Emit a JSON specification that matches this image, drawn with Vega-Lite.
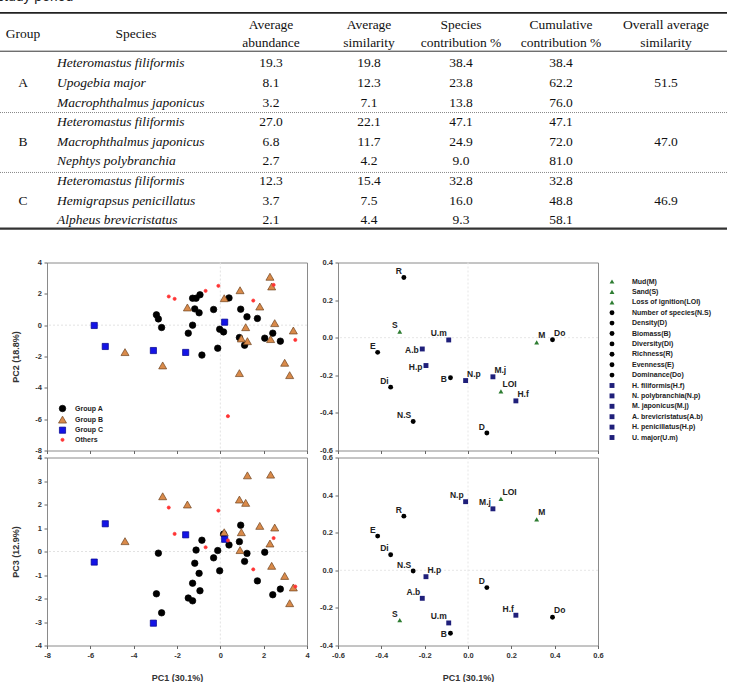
{
  "$schema": "https://vega.github.io/schema/vega-lite/v6.json",
  "padding": {"left": -3, "top": -10.5, "right": 0, "bottom": 0},
  "background": "white",
  "bounds": "flush",
  "columns": 2,
  "spacing": {"row": 7, "column": 31},
  "resolve": {
    "scale": {"color": "independent", "shape": "independent", "size": "independent", "stroke": "independent"},
    "legend": {"color": "independent", "shape": "independent", "size": "independent", "stroke": "independent"}
  },
  "config": {
    "font": "Liberation Sans",
    "view": {"stroke": "#8a8a8a"},
    "axis": {"labelFont": "Liberation Sans", "labelFontSize": 7.5, "labelFontWeight": "bold", "labelColor": "#333", "labelOverlap": false, "labelFlush": false, "labelBound": false, "tickColor": "#666", "tickSize": 3, "tickWidth": 1, "domain": false, "grid": false, "titleFont": "Liberation Sans", "titleFontSize": 9, "titleFontWeight": "bold", "titleColor": "#333"},
    "axisX": {"labelPadding": 3, "titlePadding": 14},
    "axisY": {"labelPadding": 2.5, "titlePadding": 14}
  },
  "datasets": {
    "simper": [
      {"group": "A", "row": 1, "species": "Heteromastus filiformis", "abundance": 19.3, "similarity": 19.8, "contribution": 38.4, "cumulative": 38.4, "overall": 51.5},
      {"group": "A", "row": 2, "species": "Upogebia major", "abundance": 8.1, "similarity": 12.3, "contribution": 23.8, "cumulative": 62.2, "overall": 51.5},
      {"group": "A", "row": 3, "species": "Macrophthalmus japonicus", "abundance": 3.2, "similarity": 7.1, "contribution": 13.8, "cumulative": 76.0, "overall": 51.5},
      {"group": "B", "row": 4, "species": "Heteromastus filiformis", "abundance": 27.0, "similarity": 22.1, "contribution": 47.1, "cumulative": 47.1, "overall": 47.0},
      {"group": "B", "row": 5, "species": "Macrophthalmus japonicus", "abundance": 6.8, "similarity": 11.7, "contribution": 24.9, "cumulative": 72.0, "overall": 47.0},
      {"group": "B", "row": 6, "species": "Nephtys polybranchia", "abundance": 2.7, "similarity": 4.2, "contribution": 9.0, "cumulative": 81.0, "overall": 47.0},
      {"group": "C", "row": 7, "species": "Heteromastus filiformis", "abundance": 12.3, "similarity": 15.4, "contribution": 32.8, "cumulative": 32.8, "overall": 46.9},
      {"group": "C", "row": 8, "species": "Hemigrapsus penicillatus", "abundance": 3.7, "similarity": 7.5, "contribution": 16.0, "cumulative": 48.8, "overall": 46.9},
      {"group": "C", "row": 9, "species": "Alpheus brevicristatus", "abundance": 2.1, "similarity": 4.4, "contribution": 9.3, "cumulative": 58.1, "overall": 46.9}
    ],
    "samples": [
      {"group": "Group A", "pc1": -2.95, "pc2": 0.66, "pc3": -1.80},
      {"group": "Group A", "pc1": -2.86, "pc2": 0.40, "pc3": -0.07},
      {"group": "Group A", "pc1": -2.71, "pc2": -0.15, "pc3": -2.61},
      {"group": "Group A", "pc1": -1.48, "pc2": -0.51, "pc3": -1.98},
      {"group": "Group A", "pc1": -1.28, "pc2": 1.72, "pc3": -2.10},
      {"group": "Group A", "pc1": -1.28, "pc2": 0.00, "pc3": -1.35},
      {"group": "Group A", "pc1": -1.12, "pc2": 1.72, "pc3": 0.06},
      {"group": "Group A", "pc1": -1.18, "pc2": 1.04, "pc3": -0.50},
      {"group": "Group A", "pc1": -0.98, "pc2": 0.79, "pc3": -0.93},
      {"group": "Group A", "pc1": -0.94, "pc2": 1.94, "pc3": -1.67},
      {"group": "Group A", "pc1": -0.85, "pc2": -1.91, "pc3": 0.48},
      {"group": "Group A", "pc1": -0.31, "pc2": 1.00, "pc3": -0.27},
      {"group": "Group A", "pc1": -0.12, "pc2": -1.47, "pc3": 0.04},
      {"group": "Group A", "pc1": -0.03, "pc2": -0.26, "pc3": -0.82},
      {"group": "Group A", "pc1": 0.15, "pc2": -0.43, "pc3": 0.74},
      {"group": "Group A", "pc1": 0.40, "pc2": 1.74, "pc3": 0.28},
      {"group": "Group A", "pc1": 0.94, "pc2": 1.02, "pc3": 1.12},
      {"group": "Group A", "pc1": 0.88, "pc2": -0.79, "pc3": 0.42},
      {"group": "Group A", "pc1": 1.12, "pc2": -1.28, "pc3": -0.42},
      {"group": "Group A", "pc1": 1.23, "pc2": 0.53, "pc3": -0.08},
      {"group": "Group A", "pc1": 1.71, "pc2": 0.43, "pc3": -1.25},
      {"group": "Group A", "pc1": 2.05, "pc2": -0.83, "pc3": -0.03},
      {"group": "Group A", "pc1": 2.42, "pc2": -0.51, "pc3": -1.84},
      {"group": "Group A", "pc1": 2.77, "pc2": -1.02, "pc3": -1.60},
      {"group": "Group B", "pc1": -4.40, "pc2": -1.72, "pc3": 0.44},
      {"group": "Group B", "pc1": -2.66, "pc2": -2.57, "pc3": 2.35},
      {"group": "Group B", "pc1": -1.52, "pc2": 1.13, "pc3": 2.00},
      {"group": "Group B", "pc1": 0.18, "pc2": 1.72, "pc3": 0.82},
      {"group": "Group B", "pc1": 0.91, "pc2": 2.23, "pc3": 0.06},
      {"group": "Group B", "pc1": 0.88, "pc2": -3.06, "pc3": 2.21},
      {"group": "Group B", "pc1": 1.17, "pc2": -0.13, "pc3": 2.07},
      {"group": "Group B", "pc1": 1.25, "pc2": -1.02, "pc3": 3.24},
      {"group": "Group B", "pc1": 2.32, "pc2": -0.89, "pc3": 3.27},
      {"group": "Group B", "pc1": 0.97, "pc2": -0.85, "pc3": 0.82},
      {"group": "Group B", "pc1": 1.82, "pc2": 1.19, "pc3": 1.09},
      {"group": "Group B", "pc1": 2.51, "pc2": 0.13, "pc3": 1.02},
      {"group": "Group B", "pc1": 2.29, "pc2": 3.09, "pc3": 0.34},
      {"group": "Group B", "pc1": 2.37, "pc2": 2.47, "pc3": -0.61},
      {"group": "Group B", "pc1": 2.97, "pc2": -2.40, "pc3": -1.04},
      {"group": "Group B", "pc1": 3.37, "pc2": -0.34, "pc3": -1.53},
      {"group": "Group B", "pc1": 3.20, "pc2": -3.19, "pc3": -2.20},
      {"group": "Group C", "pc1": -5.82, "pc2": -0.02, "pc3": -0.45},
      {"group": "Group C", "pc1": -5.31, "pc2": -1.36, "pc3": 1.18},
      {"group": "Group C", "pc1": -3.09, "pc2": -1.62, "pc3": -3.05},
      {"group": "Group C", "pc1": -1.60, "pc2": -1.74, "pc3": 0.71},
      {"group": "Group C", "pc1": 0.20, "pc2": 0.19, "pc3": 0.52},
      {"group": "Others", "pc1": -2.38, "pc2": 1.83, "pc3": 1.87},
      {"group": "Others", "pc1": -2.11, "pc2": 1.68, "pc3": 0.75},
      {"group": "Others", "pc1": -0.68, "pc2": 2.19, "pc3": 0.18},
      {"group": "Others", "pc1": -0.09, "pc2": 2.51, "pc3": 1.74},
      {"group": "Others", "pc1": 0.35, "pc2": -5.81, "pc3": 0.47},
      {"group": "Others", "pc1": 1.52, "pc2": 1.57, "pc3": -0.76},
      {"group": "Others", "pc1": 2.46, "pc2": 2.57, "pc3": 0.57},
      {"group": "Others", "pc1": 3.46, "pc2": -0.94, "pc3": -1.49}
    ],
    "vars": [
      {"name": "Mud(M)", "abbr": "M", "pc1": 0.317, "pc2": -0.025, "pc3": 0.271},
      {"name": "Sand(S)", "abbr": "S", "pc1": -0.315, "pc2": 0.032, "pc3": -0.265},
      {"name": "Loss of ignition(LOI)", "abbr": "LOI", "pc1": 0.152, "pc2": -0.286, "pc3": 0.38},
      {"name": "Number of species(N.S)", "abbr": "N.S", "pc1": -0.253, "pc2": -0.446, "pc3": -0.004},
      {"name": "Density(D)", "abbr": "D", "pc1": 0.087, "pc2": -0.507, "pc3": -0.092},
      {"name": "Biomass(B)", "abbr": "B", "pc1": -0.081, "pc2": -0.213, "pc3": -0.335},
      {"name": "Diversity(Di)", "abbr": "Di", "pc1": -0.357, "pc2": -0.263, "pc3": 0.083},
      {"name": "Richness(R)", "abbr": "R", "pc1": -0.296, "pc2": 0.32, "pc3": 0.288},
      {"name": "Evenness(E)", "abbr": "E", "pc1": -0.417, "pc2": -0.078, "pc3": 0.182},
      {"name": "Dominance(Do)", "abbr": "Do", "pc1": 0.39, "pc2": -0.011, "pc3": -0.25},
      {"name": "H. filiformis(H.f)", "abbr": "H.f", "pc1": 0.221, "pc2": -0.336, "pc3": -0.239},
      {"name": "N. polybranchia(N.p)", "abbr": "N.p", "pc1": -0.011, "pc2": -0.228, "pc3": 0.365},
      {"name": "M. japonicus(M.j)", "abbr": "M.j", "pc1": 0.115, "pc2": -0.208, "pc3": 0.327},
      {"name": "A. brevicristatus(A.b)", "abbr": "A.b", "pc1": -0.211, "pc2": -0.06, "pc3": -0.149},
      {"name": "H. penicillatus(H.p)", "abbr": "H.p", "pc1": -0.194, "pc2": -0.148, "pc3": -0.034},
      {"name": "U. major(U.m)", "abbr": "U.m", "pc1": -0.089, "pc2": -0.012, "pc3": -0.28}
    ]
  },
  "concat": [
    {
      "width": 260, "height": 255,
      "view": {"stroke": null},
      "layer": [
        {"data": {"values": [{"t": "study period"}]}, "mark": {"type": "text", "align": "left", "baseline": "top", "font": "Liberation Sans", "fontSize": 14, "color": "#222"},
         "encoding": {"x": {"datum": -3, "type": "quantitative", "scale": {"domain": [0, 729], "range": [-47, 682], "nice": false, "zero": false}, "axis": null},
                      "y": {"datum": -2.725, "type": "quantitative", "scale": {"domain": [0, 10], "range": [43.05, 239.55], "nice": false, "zero": false}, "axis": null},
                      "text": {"field": "t"}}},
        {"data": {"values": [{}]}, "mark": {"type": "rule", "color": "#222", "strokeWidth": 1.8},
         "encoding": {"x": {"datum": 0, "type": "quantitative"}, "x2": {"datum": 727}, "y": {"datum": -1.565, "type": "quantitative"}}},
        {"data": {"values": [{}]}, "mark": {"type": "rule", "color": "#333", "strokeWidth": 1},
         "encoding": {"x": {"datum": 0, "type": "quantitative"}, "x2": {"datum": 727}, "y": {"datum": 0.39, "type": "quantitative"}}},
        {"data": {"values": [{"r": 3.51}, {"r": 6.56}]}, "mark": {"type": "rule", "color": "#888", "strokeWidth": 1, "strokeDash": [1, 1]},
         "encoding": {"x": {"datum": 0, "type": "quantitative"}, "x2": {"datum": 727}, "y": {"field": "r", "type": "quantitative"}}},
        {"data": {"values": [{}]}, "mark": {"type": "rule", "color": "#333", "strokeWidth": 2.2},
         "encoding": {"x": {"datum": 0, "type": "quantitative"}, "x2": {"datum": 727}, "y": {"datum": 9.42, "type": "quantitative"}}},
        {"data": {"values": [{}]}, "mark": {"type": "text", "text": "Group", "font": "Liberation Serif", "fontSize": 13.5, "color": "#111", "baseline": "middle"},
         "encoding": {"x": {"datum": 23, "type": "quantitative"}, "y": {"datum": -0.5, "type": "quantitative"}}},
        {"data": {"values": [{}]}, "mark": {"type": "text", "text": "Species", "font": "Liberation Serif", "fontSize": 13.5, "color": "#111", "baseline": "middle"},
         "encoding": {"x": {"datum": 136, "type": "quantitative"}, "y": {"datum": -0.5, "type": "quantitative"}}},
        {"data": {"values": [{}]}, "mark": {"type": "text", "text": ["Average", "abundance"], "lineHeight": 18, "dy": -9, "font": "Liberation Serif", "fontSize": 13.5, "color": "#111", "baseline": "middle"},
         "encoding": {"x": {"datum": 271, "type": "quantitative"}, "y": {"datum": -0.5, "type": "quantitative"}}},
        {"data": {"values": [{}]}, "mark": {"type": "text", "text": ["Average", "similarity"], "lineHeight": 18, "dy": -9, "font": "Liberation Serif", "fontSize": 13.5, "color": "#111", "baseline": "middle"},
         "encoding": {"x": {"datum": 369, "type": "quantitative"}, "y": {"datum": -0.5, "type": "quantitative"}}},
        {"data": {"name": "simper"},
         "transform": [{"aggregate": [{"op": "mean", "field": "row", "as": "mid"}], "groupby": ["group"]}],
         "mark": {"type": "text", "font": "Liberation Serif", "fontSize": 13.5, "color": "#111", "baseline": "middle"},
         "encoding": {"x": {"datum": 23, "type": "quantitative"}, "y": {"field": "mid", "type": "quantitative"}, "text": {"field": "group"}}},
        {"data": {"name": "simper"},
         "mark": {"type": "text", "align": "left", "font": "Liberation Serif", "fontStyle": "italic", "fontSize": 13.5, "color": "#111", "baseline": "middle"},
         "encoding": {"x": {"datum": 57, "type": "quantitative"}, "y": {"field": "row", "type": "quantitative"}, "text": {"field": "species"}}},
        {"data": {"name": "simper"},
         "mark": {"type": "text", "font": "Liberation Serif", "fontSize": 13.5, "color": "#111", "baseline": "middle"},
         "encoding": {"x": {"datum": 271, "type": "quantitative"}, "y": {"field": "row", "type": "quantitative"}, "text": {"field": "abundance", "type": "quantitative", "format": ".1f"}}},
        {"data": {"name": "simper"},
         "mark": {"type": "text", "font": "Liberation Serif", "fontSize": 13.5, "color": "#111", "baseline": "middle"},
         "encoding": {"x": {"datum": 369, "type": "quantitative"}, "y": {"field": "row", "type": "quantitative"}, "text": {"field": "similarity", "type": "quantitative", "format": ".1f"}}}
      ]
    },
    {
      "width": 260, "height": 255,
      "view": {"stroke": null},
      "layer": [
        {"data": {"values": [{}]}, "mark": {"type": "text", "text": ["Species", "contribution %"], "lineHeight": 18, "dy": -9, "font": "Liberation Serif", "fontSize": 13.5, "color": "#111", "baseline": "middle"},
         "encoding": {"x": {"datum": 461, "type": "quantitative", "scale": {"domain": [0, 729], "range": [-338, 391], "nice": false, "zero": false}, "axis": null},
                      "y": {"datum": -0.5, "type": "quantitative", "scale": {"domain": [0, 10], "range": [43.05, 239.55], "nice": false, "zero": false}, "axis": null}}},
        {"data": {"values": [{}]}, "mark": {"type": "text", "text": ["Cumulative", "contribution %"], "lineHeight": 18, "dy": -9, "font": "Liberation Serif", "fontSize": 13.5, "color": "#111", "baseline": "middle"},
         "encoding": {"x": {"datum": 561, "type": "quantitative"}, "y": {"datum": -0.5, "type": "quantitative"}}},
        {"data": {"values": [{}]}, "mark": {"type": "text", "text": ["Overall average", "similarity"], "lineHeight": 18, "dy": -9, "font": "Liberation Serif", "fontSize": 13.5, "color": "#111", "baseline": "middle"},
         "encoding": {"x": {"datum": 666, "type": "quantitative"}, "y": {"datum": -0.5, "type": "quantitative"}}},
        {"data": {"name": "simper"},
         "mark": {"type": "text", "font": "Liberation Serif", "fontSize": 13.5, "color": "#111", "baseline": "middle"},
         "encoding": {"x": {"datum": 461, "type": "quantitative"}, "y": {"field": "row", "type": "quantitative"}, "text": {"field": "contribution", "type": "quantitative", "format": ".1f"}}},
        {"data": {"name": "simper"},
         "mark": {"type": "text", "font": "Liberation Serif", "fontSize": 13.5, "color": "#111", "baseline": "middle"},
         "encoding": {"x": {"datum": 561, "type": "quantitative"}, "y": {"field": "row", "type": "quantitative"}, "text": {"field": "cumulative", "type": "quantitative", "format": ".1f"}}},
        {"data": {"name": "simper"},
         "transform": [{"aggregate": [{"op": "mean", "field": "row", "as": "mid"}], "groupby": ["group", "overall"]}],
         "mark": {"type": "text", "font": "Liberation Serif", "fontSize": 13.5, "color": "#111", "baseline": "middle"},
         "encoding": {"x": {"datum": 666, "type": "quantitative"}, "y": {"field": "mid", "type": "quantitative"}, "text": {"field": "overall", "type": "quantitative", "format": ".1f"}}}
      ]
    },
    {
      "width": 260, "height": 188,
      "layer": [
        {"data": {"values": [{}]}, "mark": {"type": "rule", "color": "#e2e2e2", "strokeDash": [2, 2]},
         "encoding": {"x": {"datum": 0, "type": "quantitative", "scale": {"domain": [-8, 4], "nice": false, "zero": false}, "axis": {"values": [-8, -6, -4, -2, 0, 2, 4], "labels": false, "title": null}}}},
        {"data": {"values": [{}]}, "mark": {"type": "rule", "color": "#e2e2e2", "strokeDash": [2, 2]},
         "encoding": {"y": {"datum": 0, "type": "quantitative", "scale": {"domain": [-8, 4], "nice": false, "zero": false}, "axis": {"values": [-8, -6, -4, -2, 0, 2, 4], "labelOverlap": false, "labelExpr": "datum.value < 0 ? '-' + (-datum.value) : '' + datum.value", "title": "PC2 (18.8%)"}}}},
        {"data": {"name": "samples"},
         "mark": {"type": "point", "filled": true, "opacity": 1, "strokeWidth": 0.7},
         "encoding": {
           "x": {"field": "pc1", "type": "quantitative", "scale": {"domain": [-8, 4], "nice": false, "zero": false}, "axis": {"values": [-8, -6, -4, -2, 0, 2, 4], "labels": false, "title": null}},
           "y": {"field": "pc2", "type": "quantitative", "scale": {"domain": [-8, 4], "nice": false, "zero": false}, "axis": {"values": [-8, -6, -4, -2, 0, 2, 4], "labelOverlap": false, "labelExpr": "datum.value < 0 ? '-' + (-datum.value) : '' + datum.value", "title": "PC2 (18.8%)"}},
           "color": {"field": "group", "type": "nominal", "scale": {"domain": ["Group A", "Group B", "Group C", "Others"], "range": ["#000000", "#d98a4a", "#1414e6", "#ff3333"]},
                     "legend": {"orient": "none", "legendX": 11, "legendY": 142, "title": null, "padding": 0, "rowPadding": 0.6, "labelOffset": 8, "labelFont": "Liberation Sans", "labelFontSize": 7, "labelFontWeight": "bold", "labelColor": "#222", "symbolStrokeWidth": 0.7}},
           "shape": {"field": "group", "type": "nominal", "scale": {"domain": ["Group A", "Group B", "Group C", "Others"], "range": ["circle", "triangle-up", "square", "circle"]}},
           "size": {"field": "group", "type": "nominal", "scale": {"type": "ordinal", "domain": ["Group A", "Group B", "Group C", "Others"], "range": [42, 64, 38, 10]}},
           "stroke": {"field": "group", "type": "nominal", "scale": {"domain": ["Group A", "Group B", "Group C", "Others"], "range": ["#000000", "#6e4420", "#00008b", "#ff3333"]}}
         }}
      ]
    },
    {
      "width": 260, "height": 188,
      "data": {"name": "vars"},
      "layer": [
        {"data": {"values": [{}]}, "mark": {"type": "rule", "color": "#e6e6e6", "strokeDash": [2, 2]},
         "encoding": {"x": {"datum": 0, "type": "quantitative", "scale": {"domain": [-0.6, 0.6], "nice": false, "zero": false}, "axis": {"values": [-0.6, -0.4, -0.2, 0, 0.2, 0.4, 0.6], "labels": false, "title": null}}}},
        {"data": {"values": [{}]}, "mark": {"type": "rule", "color": "#e6e6e6", "strokeDash": [2, 2]},
         "encoding": {"y": {"datum": 0, "type": "quantitative", "scale": {"domain": [-0.6, 0.4], "nice": false, "zero": false}, "axis": {"values": [-0.6, -0.4, -0.2, 0, 0.2, 0.4], "labelOverlap": false, "labelExpr": "datum.value < 0 ? '-' + format(-datum.value, '.1f') : format(datum.value, '.1f')", "title": null}}}},
        {"mark": {"type": "point", "filled": true, "opacity": 1, "size": 24, "strokeWidth": 0},
         "encoding": {
           "x": {"field": "pc1", "type": "quantitative", "scale": {"domain": [-0.6, 0.6], "nice": false, "zero": false}, "axis": {"values": [-0.6, -0.4, -0.2, 0, 0.2, 0.4, 0.6], "labels": false, "title": null}},
           "y": {"field": "pc2", "type": "quantitative", "scale": {"domain": [-0.6, 0.4], "nice": false, "zero": false}, "axis": {"values": [-0.6, -0.4, -0.2, 0, 0.2, 0.4], "labelOverlap": false, "labelExpr": "datum.value < 0 ? '-' + format(-datum.value, '.1f') : format(datum.value, '.1f')", "title": null}},
           "color": {"field": "name", "type": "nominal",
                     "scale": {"domain": ["Mud(M)", "Sand(S)", "Loss of ignition(LOI)", "Number of species(N.S)", "Density(D)", "Biomass(B)", "Diversity(Di)", "Richness(R)", "Evenness(E)", "Dominance(Do)", "H. filiformis(H.f)", "N. polybranchia(N.p)", "M. japonicus(M.j)", "A. brevicristatus(A.b)", "H. penicillatus(H.p)", "U. major(U.m)"],
                               "range": ["#2e7d32", "#2e7d32", "#2e7d32", "#000000", "#000000", "#000000", "#000000", "#000000", "#000000", "#000000", "#1f1f7a", "#1f1f7a", "#1f1f7a", "#1f1f7a", "#1f1f7a", "#1f1f7a"]},
                     "legend": {"orient": "none", "legendX": 270.5, "legendY": 15.5, "title": null, "padding": 0, "rowPadding": 2.4, "labelOffset": 16.5, "symbolSize": 24, "symbolStrokeWidth": 0, "labelFont": "Liberation Sans", "labelFontSize": 7, "labelFontWeight": "bold", "labelColor": "#222", "labelLimit": 300,
                                "encode": {"labels": {"update": {"fontStyle": {"signal": "indexof(datum.label, '. ') == 1 ? 'italic' : 'normal'"}}}}}},
           "shape": {"field": "name", "type": "nominal",
                     "scale": {"domain": ["Mud(M)", "Sand(S)", "Loss of ignition(LOI)", "Number of species(N.S)", "Density(D)", "Biomass(B)", "Diversity(Di)", "Richness(R)", "Evenness(E)", "Dominance(Do)", "H. filiformis(H.f)", "N. polybranchia(N.p)", "M. japonicus(M.j)", "A. brevicristatus(A.b)", "H. penicillatus(H.p)", "U. major(U.m)"],
                               "range": ["triangle-up", "triangle-up", "triangle-up", "circle", "circle", "circle", "circle", "circle", "circle", "circle", "square", "square", "square", "square", "square", "square"]}}
         }},
        {"transform": [{"filter": {"field": "abbr", "oneOf": ["R", "S", "E", "Di", "N.S", "D", "U.m"]}}],
         "mark": {"type": "text", "align": "right", "baseline": "alphabetic", "dx": -2, "dy": -3.5, "font": "Liberation Sans", "fontSize": 8.5, "fontWeight": "bold", "color": "#222"},
         "encoding": {"x": {"field": "pc1", "type": "quantitative", "axis": {"values": [-0.6, -0.4, -0.2, 0, 0.2, 0.4, 0.6], "labels": false, "title": null}},
                      "y": {"field": "pc2", "type": "quantitative", "axis": {"values": [-0.6, -0.4, -0.2, 0, 0.2, 0.4], "labelOverlap": false, "labelExpr": "datum.value < 0 ? '-' + format(-datum.value, '.1f') : format(datum.value, '.1f')", "title": null}},
                      "text": {"field": "abbr"}}},
        {"transform": [{"filter": {"field": "abbr", "oneOf": ["Do", "M", "M.j", "LOI", "N.p", "H.f"]}}],
         "mark": {"type": "text", "align": "left", "baseline": "alphabetic", "dx": 1.5, "dy": -4, "font": "Liberation Sans", "fontSize": 8.5, "fontWeight": "bold", "color": "#222"},
         "encoding": {"x": {"field": "pc1", "type": "quantitative", "axis": {"values": [-0.6, -0.4, -0.2, 0, 0.2, 0.4, 0.6], "labels": false, "title": null}},
                      "y": {"field": "pc2", "type": "quantitative", "axis": {"values": [-0.6, -0.4, -0.2, 0, 0.2, 0.4], "labelOverlap": false, "labelExpr": "datum.value < 0 ? '-' + format(-datum.value, '.1f') : format(datum.value, '.1f')", "title": null}},
                      "text": {"field": "abbr"}}},
        {"transform": [{"filter": {"field": "abbr", "oneOf": ["B", "A.b", "H.p"]}}],
         "mark": {"type": "text", "align": "right", "baseline": "middle", "dx": -3.5, "dy": 1.5, "font": "Liberation Sans", "fontSize": 8.5, "fontWeight": "bold", "color": "#222"},
         "encoding": {"x": {"field": "pc1", "type": "quantitative", "axis": {"values": [-0.6, -0.4, -0.2, 0, 0.2, 0.4, 0.6], "labels": false, "title": null}},
                      "y": {"field": "pc2", "type": "quantitative", "axis": {"values": [-0.6, -0.4, -0.2, 0, 0.2, 0.4], "labelOverlap": false, "labelExpr": "datum.value < 0 ? '-' + format(-datum.value, '.1f') : format(datum.value, '.1f')", "title": null}},
                      "text": {"field": "abbr"}}}
      ]
    },
    {
      "width": 260, "height": 188,
      "layer": [
        {"data": {"values": [{}]}, "mark": {"type": "rule", "color": "#e2e2e2", "strokeDash": [2, 2]},
         "encoding": {"x": {"datum": 0, "type": "quantitative", "scale": {"domain": [-8, 4], "nice": false, "zero": false}, "axis": {"values": [-8, -6, -4, -2, 0, 2, 4], "labelOverlap": false, "labelExpr": "datum.value < 0 ? '-' + (-datum.value) : '' + datum.value", "title": "PC1 (30.1%)"}}}},
        {"data": {"values": [{}]}, "mark": {"type": "rule", "color": "#e2e2e2", "strokeDash": [2, 2]},
         "encoding": {"y": {"datum": 0, "type": "quantitative", "scale": {"domain": [-4, 4], "nice": false, "zero": false}, "axis": {"values": [-4, -3, -2, -1, 0, 1, 2, 3, 4], "labelOverlap": false, "labelExpr": "datum.value < 0 ? '-' + (-datum.value) : '' + datum.value", "title": "PC3 (12.9%)"}}}},
        {"data": {"name": "samples"},
         "mark": {"type": "point", "filled": true, "opacity": 1, "strokeWidth": 0.7},
         "encoding": {
           "x": {"field": "pc1", "type": "quantitative", "scale": {"domain": [-8, 4], "nice": false, "zero": false}, "axis": {"values": [-8, -6, -4, -2, 0, 2, 4], "labelOverlap": false, "labelExpr": "datum.value < 0 ? '-' + (-datum.value) : '' + datum.value", "title": "PC1 (30.1%)"}},
           "y": {"field": "pc3", "type": "quantitative", "scale": {"domain": [-4, 4], "nice": false, "zero": false}, "axis": {"values": [-4, -3, -2, -1, 0, 1, 2, 3, 4], "labelOverlap": false, "labelExpr": "datum.value < 0 ? '-' + (-datum.value) : '' + datum.value", "title": "PC3 (12.9%)"}},
           "color": {"field": "group", "type": "nominal", "scale": {"domain": ["Group A", "Group B", "Group C", "Others"], "range": ["#000000", "#d98a4a", "#1414e6", "#ff3333"]}, "legend": null},
           "shape": {"field": "group", "type": "nominal", "scale": {"domain": ["Group A", "Group B", "Group C", "Others"], "range": ["circle", "triangle-up", "square", "circle"]}, "legend": null},
           "size": {"field": "group", "type": "nominal", "scale": {"type": "ordinal", "domain": ["Group A", "Group B", "Group C", "Others"], "range": [42, 64, 38, 10]}, "legend": null},
           "stroke": {"field": "group", "type": "nominal", "scale": {"domain": ["Group A", "Group B", "Group C", "Others"], "range": ["#000000", "#6e4420", "#00008b", "#ff3333"]}, "legend": null}
         }}
      ]
    },
    {
      "width": 260, "height": 188,
      "data": {"name": "vars"},
      "layer": [
        {"data": {"values": [{}]}, "mark": {"type": "rule", "color": "#e6e6e6", "strokeDash": [2, 2]},
         "encoding": {"x": {"datum": 0, "type": "quantitative", "scale": {"domain": [-0.6, 0.6], "nice": false, "zero": false}, "axis": {"values": [-0.6, -0.4, -0.2, 0, 0.2, 0.4, 0.6], "labelOverlap": false, "labelExpr": "datum.value < 0 ? '-' + format(-datum.value, '.1f') : format(datum.value, '.1f')", "title": "PC1 (30.1%)"}}}},
        {"data": {"values": [{}]}, "mark": {"type": "rule", "color": "#e6e6e6", "strokeDash": [2, 2]},
         "encoding": {"y": {"datum": 0, "type": "quantitative", "scale": {"domain": [-0.4, 0.6], "nice": false, "zero": false}, "axis": {"values": [-0.4, -0.2, 0, 0.2, 0.4, 0.6], "labelOverlap": false, "labelExpr": "datum.value < 0 ? '-' + format(-datum.value, '.1f') : format(datum.value, '.1f')", "title": null}}}},
        {"mark": {"type": "point", "filled": true, "opacity": 1, "size": 24, "strokeWidth": 0},
         "encoding": {
           "x": {"field": "pc1", "type": "quantitative", "scale": {"domain": [-0.6, 0.6], "nice": false, "zero": false}, "axis": {"values": [-0.6, -0.4, -0.2, 0, 0.2, 0.4, 0.6], "labelOverlap": false, "labelExpr": "datum.value < 0 ? '-' + format(-datum.value, '.1f') : format(datum.value, '.1f')", "title": "PC1 (30.1%)"}},
           "y": {"field": "pc3", "type": "quantitative", "scale": {"domain": [-0.4, 0.6], "nice": false, "zero": false}, "axis": {"values": [-0.4, -0.2, 0, 0.2, 0.4, 0.6], "labelOverlap": false, "labelExpr": "datum.value < 0 ? '-' + format(-datum.value, '.1f') : format(datum.value, '.1f')", "title": null}},
           "color": {"field": "name", "type": "nominal",
                     "scale": {"domain": ["Mud(M)", "Sand(S)", "Loss of ignition(LOI)", "Number of species(N.S)", "Density(D)", "Biomass(B)", "Diversity(Di)", "Richness(R)", "Evenness(E)", "Dominance(Do)", "H. filiformis(H.f)", "N. polybranchia(N.p)", "M. japonicus(M.j)", "A. brevicristatus(A.b)", "H. penicillatus(H.p)", "U. major(U.m)"],
                               "range": ["#2e7d32", "#2e7d32", "#2e7d32", "#000000", "#000000", "#000000", "#000000", "#000000", "#000000", "#000000", "#1f1f7a", "#1f1f7a", "#1f1f7a", "#1f1f7a", "#1f1f7a", "#1f1f7a"]}, "legend": null},
           "shape": {"field": "name", "type": "nominal",
                     "scale": {"domain": ["Mud(M)", "Sand(S)", "Loss of ignition(LOI)", "Number of species(N.S)", "Density(D)", "Biomass(B)", "Diversity(Di)", "Richness(R)", "Evenness(E)", "Dominance(Do)", "H. filiformis(H.f)", "N. polybranchia(N.p)", "M. japonicus(M.j)", "A. brevicristatus(A.b)", "H. penicillatus(H.p)", "U. major(U.m)"],
                               "range": ["triangle-up", "triangle-up", "triangle-up", "circle", "circle", "circle", "circle", "circle", "circle", "circle", "square", "square", "square", "square", "square", "square"]}, "legend": null}
         }},
        {"transform": [{"filter": {"field": "abbr", "oneOf": ["N.p", "M.j", "R", "E", "Di", "N.S", "D", "A.b", "H.f", "S", "U.m"]}}],
         "mark": {"type": "text", "align": "right", "baseline": "alphabetic", "dx": -2, "dy": -3.5, "font": "Liberation Sans", "fontSize": 8.5, "fontWeight": "bold", "color": "#222"},
         "encoding": {"x": {"field": "pc1", "type": "quantitative", "axis": {"values": [-0.6, -0.4, -0.2, 0, 0.2, 0.4, 0.6], "labelOverlap": false, "labelExpr": "datum.value < 0 ? '-' + format(-datum.value, '.1f') : format(datum.value, '.1f')", "title": "PC1 (30.1%)"}},
                      "y": {"field": "pc3", "type": "quantitative", "axis": {"values": [-0.4, -0.2, 0, 0.2, 0.4, 0.6], "labelOverlap": false, "labelExpr": "datum.value < 0 ? '-' + format(-datum.value, '.1f') : format(datum.value, '.1f')", "title": null}},
                      "text": {"field": "abbr"}}},
        {"transform": [{"filter": {"field": "abbr", "oneOf": ["LOI", "M", "H.p", "Do"]}}],
         "mark": {"type": "text", "align": "left", "baseline": "alphabetic", "dx": 1.5, "dy": -4, "font": "Liberation Sans", "fontSize": 8.5, "fontWeight": "bold", "color": "#222"},
         "encoding": {"x": {"field": "pc1", "type": "quantitative", "axis": {"values": [-0.6, -0.4, -0.2, 0, 0.2, 0.4, 0.6], "labelOverlap": false, "labelExpr": "datum.value < 0 ? '-' + format(-datum.value, '.1f') : format(datum.value, '.1f')", "title": "PC1 (30.1%)"}},
                      "y": {"field": "pc3", "type": "quantitative", "axis": {"values": [-0.4, -0.2, 0, 0.2, 0.4, 0.6], "labelOverlap": false, "labelExpr": "datum.value < 0 ? '-' + format(-datum.value, '.1f') : format(datum.value, '.1f')", "title": null}},
                      "text": {"field": "abbr"}}},
        {"transform": [{"filter": {"field": "abbr", "oneOf": ["B"]}}],
         "mark": {"type": "text", "align": "right", "baseline": "middle", "dx": -3.5, "dy": 1, "font": "Liberation Sans", "fontSize": 8.5, "fontWeight": "bold", "color": "#222"},
         "encoding": {"x": {"field": "pc1", "type": "quantitative", "axis": {"values": [-0.6, -0.4, -0.2, 0, 0.2, 0.4, 0.6], "labelOverlap": false, "labelExpr": "datum.value < 0 ? '-' + format(-datum.value, '.1f') : format(datum.value, '.1f')", "title": "PC1 (30.1%)"}},
                      "y": {"field": "pc3", "type": "quantitative", "axis": {"values": [-0.4, -0.2, 0, 0.2, 0.4, 0.6], "labelOverlap": false, "labelExpr": "datum.value < 0 ? '-' + format(-datum.value, '.1f') : format(datum.value, '.1f')", "title": null}},
                      "text": {"field": "abbr"}}}
      ]
    }
  ]
}
